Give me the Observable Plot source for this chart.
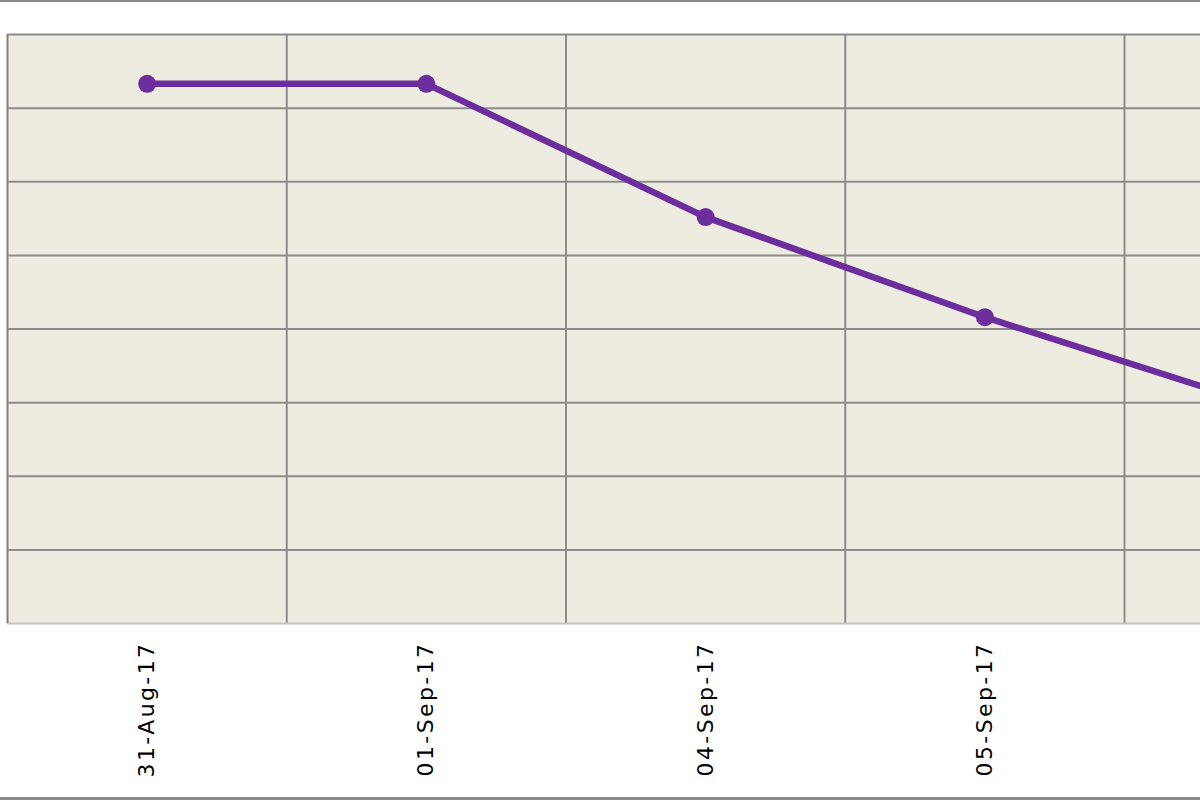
<!DOCTYPE html>
<html>
<head>
<meta charset="utf-8">
<script src="https://cdn.jsdelivr.net/npm/d3@7"></script>
<script src="https://cdn.jsdelivr.net/npm/@observablehq/plot@0.6"></script>
<style>
html, body { margin: 0; padding: 0; background: #ffffff; overflow: hidden; }
#wrap { position: relative; width: 1200px; height: 800px; overflow: hidden; background: #ffffff; }
#wrap svg text { letter-spacing: 2.4px; }
.border-top { position: absolute; left: 0; top: 0; width: 1200px; height: 2px; background: #8a8a8a; }
.border-bottom { position: absolute; left: 0; top: 797px; width: 1200px; height: 3px; background: #8a8a8a; }
</style>
</head>
<body>
<div id="wrap"></div>
<script>
// Data
const dates = ["31-Aug-17", "01-Sep-17", "04-Sep-17", "05-Sep-17", "06-Sep-17"];
const values = [7.33, 7.33, 5.52, 4.16, 2.95];
const yGrid = [1, 2, 3, 4, 5, 6, 7, 8];

const n = dates.length;
const data = dates.map((d, i) => ({pos: i + 0.5, date: d, value: values[i]}));
const bandW = 279.25;
const viewW = 1200, left = 7;
// only label the categories whose centre falls inside the visible 1200px window
const visibleTicks = data.filter(d => left + d.pos * bandW < viewW - 20).map(d => d.pos);

const chart = Plot.plot({
  width: left + bandW * n,
  height: 800,
  marginLeft: left,
  marginRight: 0,
  marginTop: 34,
  marginBottom: 177,
  style: {background: "transparent", maxWidth: "none", fontFamily: "DejaVu Sans", fontSize: "22px", color: "#000", overflow: "hidden"},
  x: {domain: [0, n], axis: null},
  y: {domain: [0, 8], axis: null},
  marks: [
    Plot.frame({fill: "#EEECE1", stroke: null}),
    Plot.ruleY(yGrid, {stroke: "#8c8c8c", strokeWidth: 2}),
    Plot.ruleX(d3.range(1, n + 1), {stroke: "#8c8c8c", strokeWidth: 2}),
    Plot.ruleY([0], {stroke: "#c4c4c4", strokeWidth: 2}),
    Plot.ruleX([0], {stroke: "#808080", strokeWidth: 2}),
    Plot.line(data, {x: "pos", y: "value", stroke: "#6B2E9C", strokeWidth: 6.5}),
    Plot.dot(data, {x: "pos", y: "value", r: 9, fill: "#6B2E9C", stroke: null}),
    Plot.axisX(visibleTicks, {
      tickSize: 0,
      tickPadding: 18,
      tickRotate: -90,
      tickFormat: v => dates[Math.floor(v)],
      fontSize: 22,
      fill: "#000"
    })
  ]
});
document.getElementById("wrap").appendChild(chart);
const t = document.createElement("div"); t.className = "border-top"; document.getElementById("wrap").appendChild(t);
const b = document.createElement("div"); b.className = "border-bottom"; document.getElementById("wrap").appendChild(b);
</script>
</body>
</html>
